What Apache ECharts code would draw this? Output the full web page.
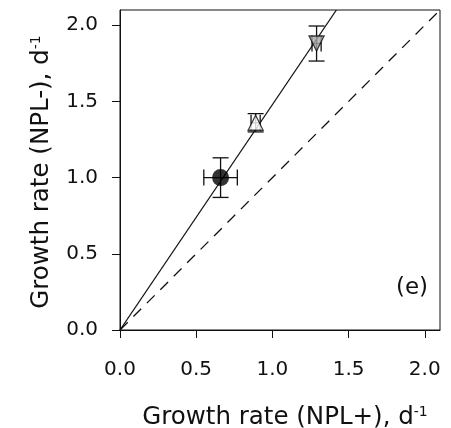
<!DOCTYPE html>
<html>
<head>
<meta charset="utf-8">
<script src="https://cdn.jsdelivr.net/npm/echarts@6/dist/echarts.min.js"></script>
<style>
  html, body { margin: 0; padding: 0; background: #fff; }
  #chart { width: 451px; height: 428px; }
</style>
</head>
<body>
<div id="chart"></div>
<script>
  // growth rate with (x) and without (y) NPL, plus error bars
  var tickValues = [0, 0.5, 1.0, 1.5, 2.0];
  var circlePt = [0.66, 1.00];
  var upTriPt = [0.89, 1.36];
  var downTriPt = [1.29, 1.88];
  var xErr = [0.11, 0.03, 0.03];
  var yErr = [0.13, 0.06, 0.115];
  var fitLine = [[0, 0], [1.42, 2.1]];
  var oneToOne = [[0, 0], [2.1, 2.1]];

  var points = [circlePt, upTriPt, downTriPt];
  var errData = points.map(function (p, i) {
    return [p[0], p[1], xErr[i], yErr[i]];
  });

  var font = 'DejaVu Sans, Arial, sans-serif';
  var chart = echarts.init(document.getElementById('chart'));

  function axisCommon(name, gap, margin, pad) {
    return {
      type: 'value',
      min: 0,
      max: 2.1,
      name: name,
      nameLocation: 'middle',
      nameGap: gap,
      nameTextStyle: {
        fontFamily: font,
        fontSize: 24.5,
        color: '#111',
        padding: pad,
        rich: {
          sup: { fontFamily: font, fontSize: 14, color: '#111', verticalAlign: 'top', padding: [0, 0, 11, 0] }
        }
      },
      axisLine: { show: true, onZero: false, lineStyle: { color: '#111', width: 1 } },
      axisTick: { show: true, inside: false, length: 8, customValues: tickValues, lineStyle: { color: '#111' } },
      axisLabel: {
        customValues: tickValues,
        fontFamily: font,
        fontSize: 20,
        color: '#111',
        margin: margin,
        formatter: function (v) { return v.toFixed(1); }
      },
      splitLine: { show: false }
    };
  }

  var option = {
    animation: false,
    grid: {
      left: 120, top: 10, width: 320, height: 320,
      outerBoundsMode: 'none',
      show: true, borderColor: '#111', borderWidth: 1
    },
    xAxis: axisCommon('Growth rate (NPL+), d{sup|-1}', 75, 30, [0, 0, 0, 10]),
    yAxis: axisCommon('Growth rate (NPL-), d{sup|-1}', 66, 22, [0, 4, 0, 0]),
    graphic: [{
      type: 'text',
      left: 396,
      top: 277,
      style: { text: '(e)', fontFamily: font, fontSize: 23, fill: '#111' }
    }],
    series: [
      {
        type: 'line',
        data: oneToOne,
        symbol: 'none',
        lineStyle: { color: '#111', width: 1.3, type: [11, 8] },
        z: 1
      },
      {
        type: 'line',
        data: fitLine,
        symbol: 'none',
        lineStyle: { color: '#111', width: 1.3 },
        z: 2
      },
      {
        type: 'custom',
        data: errData,
        z: 3,
        renderItem: function (params, api) {
          var x = api.value(0), y = api.value(1), ex = api.value(2), ey = api.value(3);
          var l = api.coord([x - ex, y]), r = api.coord([x + ex, y]);
          var t = api.coord([x, y + ey]), b = api.coord([x, y - ey]);
          var cap = 8;
          var st = { stroke: '#111', lineWidth: 1.3 };
          return {
            type: 'group',
            children: [
              { type: 'line', shape: { x1: l[0], y1: l[1], x2: r[0], y2: r[1] }, style: st },
              { type: 'line', shape: { x1: l[0], y1: l[1] - cap, x2: l[0], y2: l[1] + cap }, style: st },
              { type: 'line', shape: { x1: r[0], y1: r[1] - cap, x2: r[0], y2: r[1] + cap }, style: st },
              { type: 'line', shape: { x1: t[0], y1: t[1], x2: b[0], y2: b[1] }, style: st },
              { type: 'line', shape: { x1: t[0] - cap, y1: t[1], x2: t[0] + cap, y2: t[1] }, style: st },
              { type: 'line', shape: { x1: b[0] - cap, y1: b[1], x2: b[0] + cap, y2: b[1] }, style: st }
            ]
          };
        }
      },
      {
        type: 'scatter',
        data: [circlePt],
        symbol: 'circle',
        symbolSize: 17,
        itemStyle: { color: '#000' },
        z: 4
      },
      {
        type: 'scatter',
        data: [upTriPt],
        symbol: 'triangle',
        symbolSize: 15,
        itemStyle: { color: '#fff', borderColor: '#111', borderWidth: 1.3 },
        z: 4
      },
      {
        type: 'scatter',
        data: [downTriPt],
        symbol: 'triangle',
        symbolRotate: 180,
        symbolSize: 15,
        itemStyle: { color: '#a8a8a8', borderColor: '#111', borderWidth: 1.3 },
        z: 4
      }
    ]
  };
  chart.setOption(option);
</script>
</body>
</html>
